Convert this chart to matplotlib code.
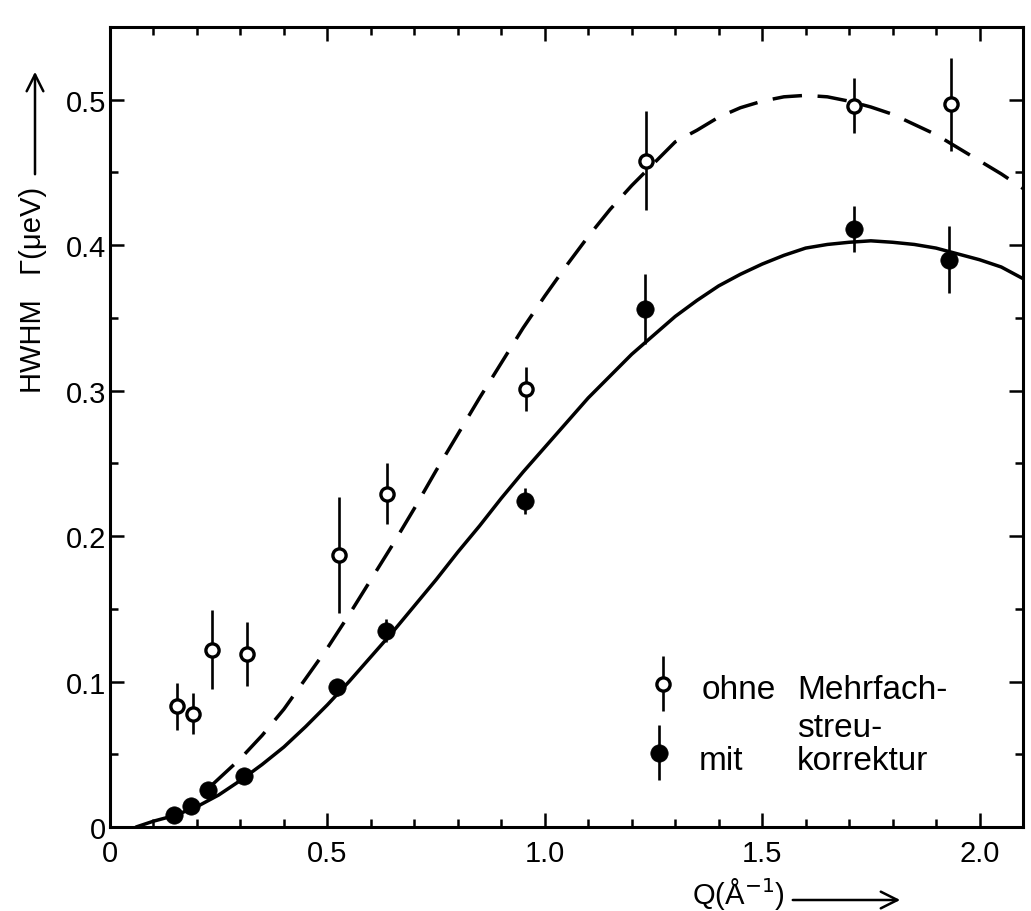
import matplotlib
matplotlib.use("Agg")
import matplotlib.pyplot as plt
from matplotlib.ticker import MultipleLocator, FixedLocator, FixedFormatter

plt.rcParams['font.family'] = ['Liberation Sans', 'DejaVu Sans']

# --- data: without multiple-scattering correction (open circles)
q_ohne = [0.155, 0.19, 0.235, 0.315, 0.527, 0.637, 0.957, 1.232, 1.712, 1.935]
g_ohne = [0.083, 0.078, 0.122, 0.119, 0.187, 0.229, 0.301, 0.458, 0.496, 0.497]
e_ohne = [0.016, 0.014, 0.027, 0.022, 0.040, 0.021, 0.015, 0.034, 0.019, 0.032]

# --- data: with correction (filled circles)
q_mit = [0.147, 0.186, 0.226, 0.308, 0.521, 0.634, 0.955, 1.23, 1.712, 1.93]
g_mit = [0.0085, 0.0143, 0.0256, 0.035, 0.096, 0.135, 0.224, 0.356, 0.411, 0.390]
e_mit = [0.0, 0.0, 0.0, 0.0, 0.006, 0.008, 0.009, 0.024, 0.016, 0.023]

# --- fitted curves
sol_q = [0.06, 0.10, 0.15, 0.20, 0.25, 0.30, 0.35, 0.40, 0.45, 0.50, 0.55, 0.60, 0.65,
         0.70, 0.75, 0.80, 0.85, 0.90, 0.95, 1.00, 1.05, 1.10, 1.15, 1.20, 1.25, 1.30,
         1.35, 1.40, 1.45, 1.50, 1.55, 1.60, 1.65, 1.70, 1.75, 1.80, 1.85, 1.90, 1.95,
         2.00, 2.05, 2.10]
sol_g = [0.000, 0.004, 0.008, 0.014, 0.022, 0.032, 0.043, 0.055, 0.069, 0.084, 0.100,
         0.117, 0.134, 0.152, 0.170, 0.189, 0.207, 0.226, 0.244, 0.261, 0.278, 0.295,
         0.310, 0.325, 0.338, 0.351, 0.362, 0.372, 0.380, 0.387, 0.393, 0.398, 0.4005,
         0.402, 0.403, 0.402, 0.4005, 0.398, 0.394, 0.390, 0.385, 0.377]

dash_q = [0.235, 0.30, 0.35, 0.40, 0.45, 0.50, 0.55, 0.60, 0.65, 0.70, 0.75, 0.80, 0.85,
          0.90, 0.95, 1.00, 1.05, 1.10, 1.15, 1.20, 1.25, 1.30, 1.35, 1.40, 1.45, 1.50,
          1.55, 1.60, 1.65, 1.70, 1.75, 1.80, 1.85, 1.90, 1.95, 2.00, 2.05, 2.10]
dash_g = [0.029, 0.047, 0.063, 0.081, 0.102, 0.123, 0.146, 0.170, 0.194, 0.219, 0.245,
          0.270, 0.295, 0.319, 0.343, 0.365, 0.386, 0.406, 0.4245, 0.441, 0.456, 0.471,
          0.479, 0.488, 0.4945, 0.499, 0.502, 0.503, 0.502, 0.499, 0.495, 0.490, 0.483,
          0.476, 0.467, 0.458, 0.449, 0.439]

x_ticks = [0.0, 0.5, 1.0, 1.5, 2.0]
x_labels = ['0', '0.5', '1.0', '1.5', '2.0']
y_ticks = [0.0, 0.1, 0.2, 0.3, 0.4, 0.5]
y_labels = ['0', '0.1', '0.2', '0.3', '0.4', '0.5']

W, H = 1031, 912
fig = plt.figure(figsize=(W / 100, H / 100), dpi=100)
L, R, T, B = 110, 1023, 28, 828
ax = fig.add_axes([L / W, 1 - B / H, (R - L) / W, (B - T) / H])
ax.set_xlim(0, 2.1)
ax.set_ylim(0, 0.55)

ink = 'black'
ax.plot(sol_q, sol_g, color=ink, lw=2.5, solid_capstyle='round')
ax.plot(dash_q, dash_g, color=ink, lw=2.5, dashes=(8.5, 4.5))

open_kw = dict(fmt='o', ms=9.5, mfc='white', mec=ink, mew=2.4, ecolor=ink,
               elinewidth=1.9, capsize=0, zorder=4)
fill_kw = dict(fmt='o', ms=12.5, mfc=ink, mec=ink, mew=0.5, ecolor=ink,
               elinewidth=1.9, capsize=0, zorder=4)
ax.errorbar(q_ohne, g_ohne, yerr=e_ohne, **open_kw)
ax.errorbar(q_mit, g_mit, yerr=e_mit, **fill_kw)

# legend drawn as in the original
ax.errorbar([1.273], [0.0985], yerr=[0.019], **open_kw)
ax.errorbar([1.263], [0.051], yerr=[0.019], **fill_kw)
fs_leg = 24
ax.text(1.36, 0.089, 'ohne', fontsize=fs_leg, va='baseline', ha='left')
ax.text(1.58, 0.089, 'Mehrfach-', fontsize=fs_leg, va='baseline', ha='left')
ax.text(1.58, 0.0625, 'streu-', fontsize=fs_leg, va='baseline', ha='left')
ax.text(1.355, 0.040, 'mit', fontsize=fs_leg, va='baseline', ha='left')
ax.text(1.58, 0.040, 'korrektur', fontsize=fs_leg, va='baseline', ha='left')

# ticks
ax.xaxis.set_major_locator(FixedLocator(x_ticks))
ax.xaxis.set_major_formatter(FixedFormatter(x_labels))
ax.xaxis.set_minor_locator(MultipleLocator(0.1))
ax.yaxis.set_major_locator(FixedLocator(y_ticks))
ax.yaxis.set_major_formatter(FixedFormatter(y_labels))
ax.yaxis.set_minor_locator(MultipleLocator(0.05))
ax.tick_params(which='both', direction='in', top=True, right=True, width=1.8,
               labelsize=21, colors=ink)
ax.tick_params(which='major', length=10)
ax.tick_params(which='minor', length=6)
ax.tick_params(axis='x', pad=9)
ax.tick_params(axis='y', pad=3)
for s in ax.spines.values():
    s.set_linewidth(2.2)

# axis labels with arrows
fig.text(33 / W, 1 - 290 / H, 'HWHM   \u0393(\u03bceV)', rotation=90, fontsize=21,
         ha='center', va='center')
fig.add_artist(matplotlib.patches.FancyArrowPatch(
    (35 / W, 1 - 178 / H), (35 / W, 1 - 70 / H), transform=fig.transFigure,
    arrowstyle='->,head_length=8,head_width=4', lw=1.8, color=ink, mutation_scale=1.5))
fig.text(738 / W, 1 - 894 / H, 'Q(\u00c5$^{-1}$)', fontsize=21, ha='center',
         va='center')
fig.add_artist(matplotlib.patches.FancyArrowPatch(
    (790 / W, 1 - 901 / H), (903 / W, 1 - 901 / H), transform=fig.transFigure,
    arrowstyle='->,head_length=8,head_width=4', lw=1.8, color=ink, mutation_scale=1.5))

fig.savefig('out.png', dpi=100, facecolor='white')
